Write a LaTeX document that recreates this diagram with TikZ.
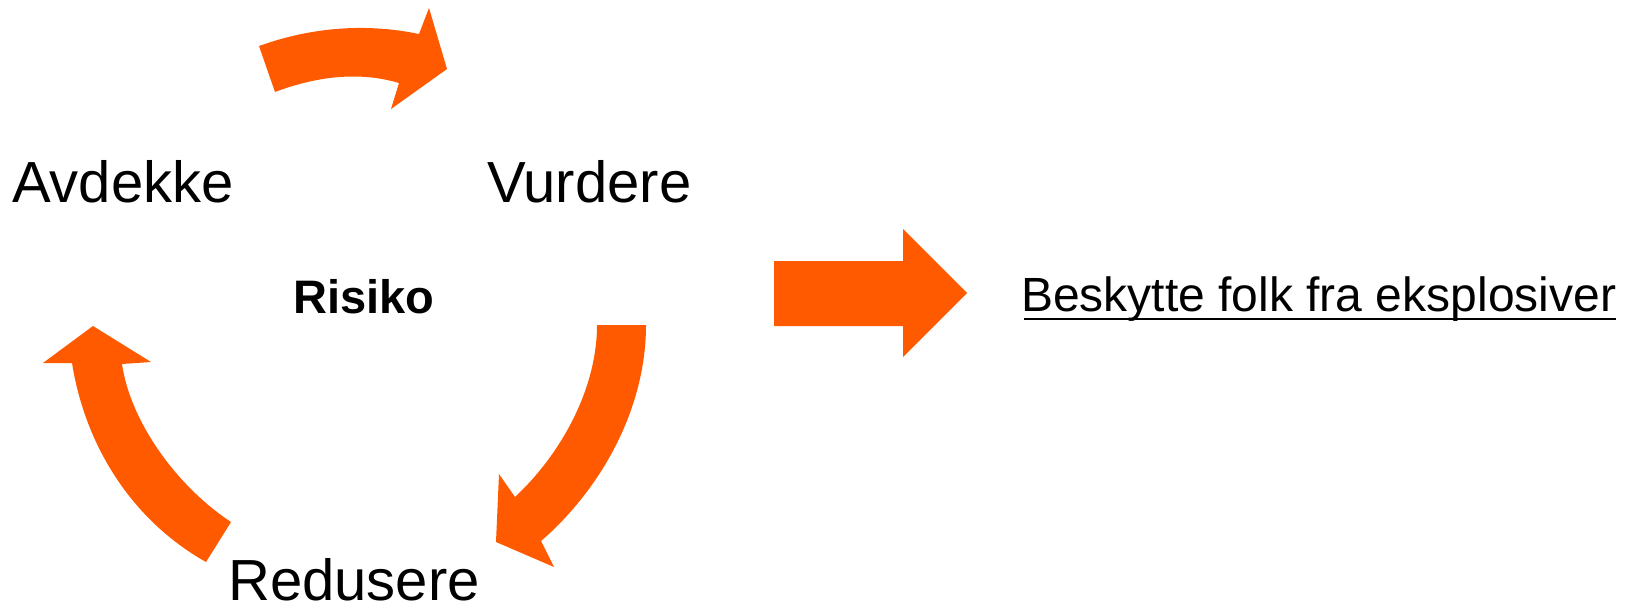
\documentclass[tikz,border=0pt]{standalone}
\usepackage{fontspec}
\setmainfont{Liberation Sans}
\definecolor{arroworange}{HTML}{FF5A00}
\begin{document}
\begin{tikzpicture}[x=1pt,y=-1pt,
  lbl/.style={anchor=base west,inner sep=0pt,font=\fontsize{58}{60}\selectfont},
  shapefill/.style={fill=arroworange,draw=none}]
\useasboundingbox (0,0) rectangle (1626,608);
% curved arrows
\fill[shapefill] (259,46) .. controls (312,27) and (366,23) .. (419,34)
  -- (429,8) -- (447,69) -- (391,109) -- (399,83)
  .. controls (362,72) and (320,75) .. (275,92) -- cycle;
\fill[shapefill] (597,325) -- (646,325) .. controls (646,410) and (600,490) .. (541,541)
  -- (554,567) -- (496,542) -- (499,474) -- (515,497)
  .. controls (560,455) and (597,390) .. (597,325) -- cycle;
\fill[shapefill] (93,326) -- (151,362) -- (122,364)
  .. controls (130,420) and (175,485) .. (231,522) -- (206,562)
  .. controls (135,522) and (86,450) .. (72,363) -- (43,363) -- cycle;
% block arrow
\fill[shapefill] (774,261) -- (903,261) -- (903,229) -- (967,293) -- (903,357) -- (903,326) -- (774,326) -- cycle;
% labels
\node[lbl] (avdekke) at (12,202) {Avdekke};
\node[lbl] (vurdere) at (487,202) {Vurdere};
\node[lbl] (redusere) at (228,600) {Redusere};
\node[lbl,font=\fontsize{47}{50}\selectfont\bfseries] (risiko) at (293,313) {Risiko};
\node[lbl,font=\fontsize{48}{50}\selectfont] (goal) at (1021,311) {Beskytte folk fra eksplosiver};
\draw[line width=2.5pt] ([shift={(3,8)}]goal.base west) -- ([shift={(0,8)}]goal.base east);
\end{tikzpicture}
\end{document}
